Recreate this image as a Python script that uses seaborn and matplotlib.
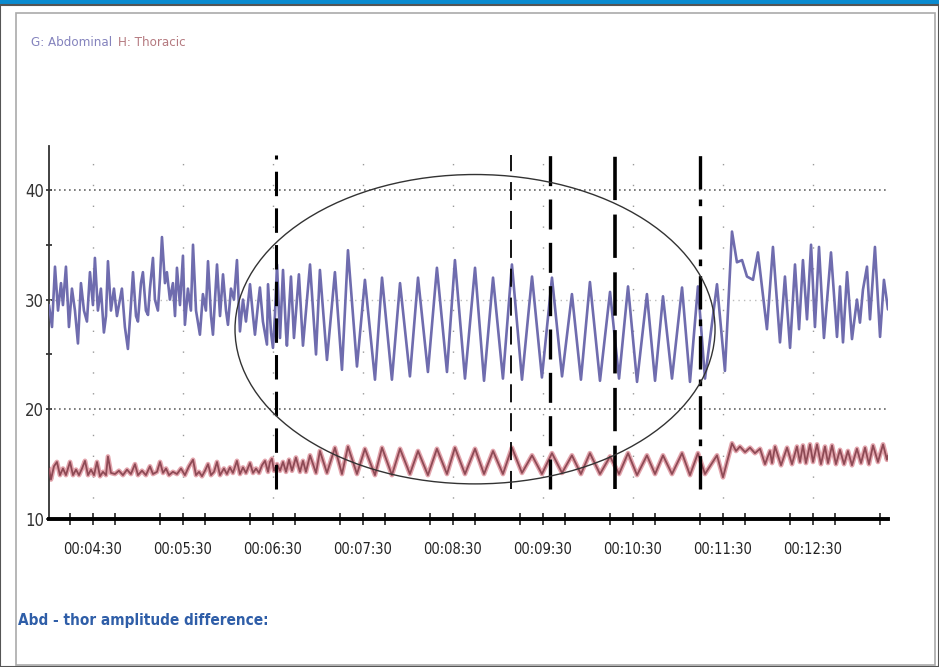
import numpy as np
import pandas as pd
import matplotlib
matplotlib.use("Agg")
import matplotlib.pyplot as plt
from matplotlib.patches import Ellipse, Rectangle
import seaborn as sns

# time in seconds since 00:00:00
abd_t = [240.7, 242.7, 244.7, 246.7, 248.7, 250.0, 252.0, 254.0, 256.0, 258.0,
         260.0, 262.0, 264.0, 266.0, 268.0, 270.0, 271.3, 273.3, 275.3, 277.3,
         278.7, 280.0, 282.0, 284.0, 286.0, 288.0, 289.3, 291.3, 293.3, 295.3,
         296.7, 298.7, 300.0, 302.0, 303.3, 305.3, 306.7, 308.0, 310.0, 311.3,
         313.3, 314.7, 316.0, 318.0, 319.3, 321.3, 323.3, 324.7, 326.0, 328.0,
         330.0, 331.3, 333.3, 335.3, 336.7, 338.7, 341.3, 343.3, 345.3, 346.7,
         348.7, 350.0, 352.7, 354.7, 356.7, 358.7, 360.0, 362.0, 364.0, 366.0,
         368.0, 370.0, 372.0, 374.7, 376.7, 378.0, 380.0, 381.3, 383.3, 386.0,
         386.7, 388.7, 390.0, 391.3, 392.7, 394.7, 396.7, 398.7, 399.3, 402.0,
         404.0, 407.3, 410.0, 414.7, 418.7, 421.3, 426.0, 431.3, 436.0, 440.0,
         446.0, 451.3, 458.0, 462.7, 469.3, 474.7, 481.3, 486.7, 493.3, 499.3,
         506.0, 511.3, 518.0, 524.7, 530.7, 536.7, 543.3, 549.3, 556.0, 562.7,
         569.3, 576.0, 582.7, 589.3, 595.3, 601.3, 608.0, 614.7, 620.7, 626.7,
         632.7, 639.3, 644.7, 650.0, 656.0, 662.7, 668.0, 673.3, 678.0, 686.0,
         691.3, 696.0, 699.3, 702.7, 706.0, 710.0, 713.3, 719.3, 723.3, 728.0,
         731.3, 734.7, 738.0, 740.7, 743.3, 746.0, 748.7, 751.3, 754.0, 757.3,
         762.0, 766.0, 768.0, 770.0, 772.7, 776.0, 779.3, 781.3, 783.3, 786.0,
         788.0, 791.3, 794.7, 797.3, 800.0]
abd_v = [29.5, 27.5, 33.0, 29.0, 31.5, 29.5, 33.0, 27.5, 31.0, 29.0,
         26.0, 31.5, 29.0, 28.0, 32.5, 29.5, 33.8, 29.0, 31.0, 27.0,
         28.5, 33.5, 29.0, 31.0, 28.5, 30.0, 31.0, 27.5, 25.5, 29.5,
         32.5, 28.5, 28.0, 31.5, 32.5, 29.0, 28.6, 31.0, 33.8, 30.0,
         29.0, 32.0, 35.7, 31.5, 32.5, 30.0, 31.5, 28.5, 32.9, 29.5,
         34.0, 27.7, 31.0, 29.0, 35.0, 29.0, 26.8, 30.5, 29.0, 33.5,
         28.5, 26.8, 33.2, 28.5, 32.3, 29.0, 27.7, 31.0, 30.0, 33.6,
         27.1, 30.0, 28.0, 31.4, 28.5, 26.8, 29.5, 31.1, 28.0, 25.9,
         31.4, 27.0, 25.6, 28.5, 33.2, 26.5, 32.7, 27.0, 25.8, 32.1,
         26.5, 32.3, 25.8, 33.2, 25.0, 32.7, 24.5, 32.5, 23.6, 34.5,
         23.9, 31.8, 22.7, 32.0, 22.7, 31.5, 23.0, 32.0, 23.4, 32.9,
         23.4, 33.6, 22.8, 32.9, 22.6, 32.0, 22.8, 33.2, 22.7, 32.1,
         22.9, 32.0, 23.0, 30.5, 22.7, 31.6, 22.6, 30.7, 22.8, 31.2,
         22.5, 30.5, 22.6, 30.3, 22.8, 31.1, 22.5, 31.2, 22.8, 31.4,
         23.5, 36.2, 33.4, 33.6, 32.1, 31.8, 34.3, 27.3, 34.8, 26.1,
         32.1, 25.6, 33.2, 27.3, 33.6, 28.2, 35.0, 27.5, 34.8, 26.5,
         34.3, 26.6, 31.2, 26.1, 32.5, 26.4, 30.0, 27.9, 30.9, 33.0,
         28.2, 34.8, 26.6, 31.8, 29.1]

tho_t = [240.7, 242.0, 244.0, 246.0, 248.0, 250.0, 252.0, 254.7, 256.7, 258.7,
         260.7, 262.7, 264.7, 266.7, 268.7, 270.7, 272.7, 274.7, 276.7, 278.7,
         280.0, 282.0, 284.7, 287.3, 290.0, 292.7, 295.3, 298.0, 300.0, 302.7,
         305.3, 308.0, 310.0, 312.7, 314.7, 316.7, 318.7, 320.7, 323.3, 326.0,
         328.7, 331.3, 334.0, 336.7, 338.7, 340.7, 342.7, 344.7, 346.7, 348.7,
         350.7, 352.7, 354.7, 357.3, 359.3, 361.3, 363.3, 366.0, 368.0, 370.0,
         372.0, 374.7, 376.7, 378.7, 380.7, 382.7, 384.7, 386.7, 388.0, 389.3,
         390.7, 392.7, 394.7, 396.7, 398.7, 400.7, 402.7, 405.3, 408.0, 410.0,
         412.0, 414.7, 418.7, 421.3, 426.0, 431.3, 436.0, 440.0, 446.0, 451.3,
         458.0, 462.7, 469.3, 474.7, 481.3, 486.7, 493.3, 499.3, 506.0, 511.3,
         518.0, 524.7, 530.7, 536.7, 543.3, 549.3, 556.0, 562.7, 569.3, 576.0,
         582.7, 589.3, 595.3, 601.3, 608.0, 614.7, 620.7, 626.7, 632.7, 639.3,
         644.7, 650.0, 656.0, 662.7, 668.0, 673.3, 678.0, 686.0, 690.0, 696.0,
         698.7, 701.3, 704.7, 708.0, 711.3, 714.7, 718.0, 721.3, 722.7, 724.7,
         728.7, 732.7, 736.0, 739.3, 741.3, 743.3, 745.3, 748.0, 750.0, 752.7,
         755.3, 758.0, 760.0, 762.7, 765.3, 768.0, 770.7, 773.3, 776.0, 779.3,
         782.0, 784.7, 787.3, 790.0, 793.3, 796.7, 799.3, 800.0]
tho_v = [14.6, 13.6, 14.8, 15.2, 14.0, 14.6, 14.0, 15.2, 14.0, 14.5,
         14.0, 14.6, 15.3, 14.0, 14.5, 14.0, 15.2, 13.9, 14.3, 14.0,
         15.7, 14.2, 14.1, 14.4, 14.0, 14.5, 14.1, 15.0, 14.0, 14.4,
         14.0, 14.8, 14.1, 14.3, 15.2, 14.2, 14.6, 14.0, 14.3, 14.1,
         14.6, 14.0, 14.8, 15.4, 14.0, 14.3, 13.9, 14.4, 15.0, 14.0,
         14.3, 15.2, 14.0, 14.6, 14.1, 14.7, 14.2, 15.3, 14.1, 14.7,
         14.2, 15.1, 14.2, 14.6, 14.2, 14.9, 15.3, 14.3, 15.2, 15.5,
         14.4, 15.0, 14.4, 15.2, 14.3, 15.4, 14.4, 15.6, 14.3, 15.3,
         14.3, 15.8, 14.2, 16.2, 14.2, 16.5, 14.1, 16.6, 14.1, 16.4,
         14.0, 16.5, 14.0, 16.4, 14.1, 16.2, 14.0, 16.4, 14.1, 16.5,
         14.1, 16.4, 14.1, 16.2, 14.1, 16.5, 14.2, 15.8, 14.1, 16.0,
         14.2, 15.8, 14.1, 16.0, 14.1, 15.7, 14.1, 16.0, 14.0, 15.8,
         14.1, 15.8, 14.1, 16.0, 14.0, 16.0, 14.1, 15.8, 13.8, 16.9,
         16.2, 16.6, 16.1, 16.5, 16.0, 16.4, 15.0, 16.2, 15.1, 16.6,
         14.9, 16.5, 15.0, 16.6, 15.2, 16.7, 15.1, 16.8, 15.2, 16.8,
         15.0, 16.6, 15.1, 16.7, 15.0, 16.3, 15.0, 16.2, 14.9, 16.4,
         15.1, 16.5, 15.0, 16.7, 15.2, 16.8, 15.4, 15.8]

tick_secs = [270, 330, 390, 450, 510, 570, 630, 690, 750]
tick_labels = ["00:04:30", "00:05:30", "00:06:30", "00:07:30", "00:08:30",
               "00:09:30", "00:10:30", "00:11:30", "00:12:30"]
marker_secs = [392.0, 548.7, 574.7, 618.0, 674.7]

abd = pd.DataFrame({"t": abd_t, "v": abd_v})
tho = pd.DataFrame({"t": tho_t, "v": tho_v})

sns.set_style("white")
plt.rcParams["font.family"] = ["DejaVu Sans"]
plt.rcParams["font.stretch"] = "condensed"

fig = plt.figure(figsize=(9.39, 6.67), dpi=100)
ax = fig.add_axes([49 / 939, 1 - 519 / 667, (888 - 49) / 939, (519 - 146) / 667])

# panel frame and header bar
fig.patches.append(Rectangle((0, 1 - 6 / 667), 1, 6 / 667, transform=fig.transFigure,
                             facecolor="#0a8bd0", edgecolor="none"))
fig.patches.append(Rectangle((16 / 939, 2 / 667), 919 / 939, 1 - 15 / 667,
                             transform=fig.transFigure, facecolor="none",
                             edgecolor="#aaaaaa", lw=1.2))
fig.patches.append(Rectangle((0, 0), 1, 1 - 5 / 667, transform=fig.transFigure,
                             facecolor="none", edgecolor="#555555", lw=1.5))

ax.set_xlim(240.7, 800)
ax.set_ylim(10, 44)

# grid
for y in [20, 40]:
    ax.axhline(y, color="#666666", lw=1.2, ls=(0, (1, 2)), zorder=1)
ax.axhline(30, color="#bbbbbb", lw=1, ls=(0, (1, 3)), zorder=1)
for t in tick_secs:
    ax.axvline(t, color="#999999", lw=1, ls=(0, (1, 14)), zorder=1)

sns.lineplot(x="t", y="v", data=tho, sort=False, estimator=None, ax=ax,
             color="#e3a5ad", lw=3.4, zorder=2)
sns.lineplot(x="t", y="v", data=tho, sort=False, estimator=None, ax=ax,
             color="#8e4a55", lw=1.3, zorder=3)
sns.lineplot(x="t", y="v", data=abd, sort=False, estimator=None, ax=ax,
             color="#6f6cae", lw=1.9, zorder=3)

# event markers
styles = [(2.2, (0, (8, 4))), (1.3, (0, (10, 6))), (2.4, (0, (9, 4))),
          (2.6, (0, (12, 4))), (2.4, (0, (10, 3, 2, 3)))]
for t, (lw, ls) in zip(marker_secs, styles):
    ax.plot([t, t], [12.7, 43.2], color="black", lw=lw, ls=ls, zorder=4)

ax.add_patch(Ellipse((524.7, 27.3), 320, 28.2, facecolor="none",
                     edgecolor="#333333", lw=1, zorder=5))

for s in ["top", "right"]:
    ax.spines[s].set_visible(False)
ax.spines["bottom"].set_linewidth(2.8)
ax.spines["bottom"].set_color("black")
ax.spines["left"].set_linewidth(1.3)
ax.spines["left"].set_color("#333333")

ax.set_xticks(tick_secs)
ax.set_xticklabels(tick_labels, fontsize=10.5, color="#222222")
ax.set_xticks(np.arange(255, 800, 30), minor=True)
ax.set_yticks([10, 20, 30, 40])
ax.set_yticklabels(["10", "20", "30", "40"], fontsize=12, color="#333333")
ax.set_yticks([25, 35], minor=True)
ax.tick_params(axis="x", which="both", direction="inout", length=9, width=1.2,
               pad=12, bottom=True)
ax.tick_params(axis="y", which="both", direction="inout", length=5, width=1.2,
               pad=1, left=True)
ax.set_xlabel("")
ax.set_ylabel("")

fig.text(31 / 939, 1 - 42 / 667, "G: Abdominal", color="#8483bd", fontsize=9.5,
         va="center")
fig.text(118 / 939, 1 - 42 / 667, "H: Thoracic", color="#b57a80", fontsize=9.5,
         va="center")
fig.text(18 / 939, 1 - 620 / 667, "Abd - thor amplitude difference:",
         color="#2f5ea8", fontsize=11, fontweight="bold", va="center")

fig.savefig("out.png", dpi=100, facecolor="white")
